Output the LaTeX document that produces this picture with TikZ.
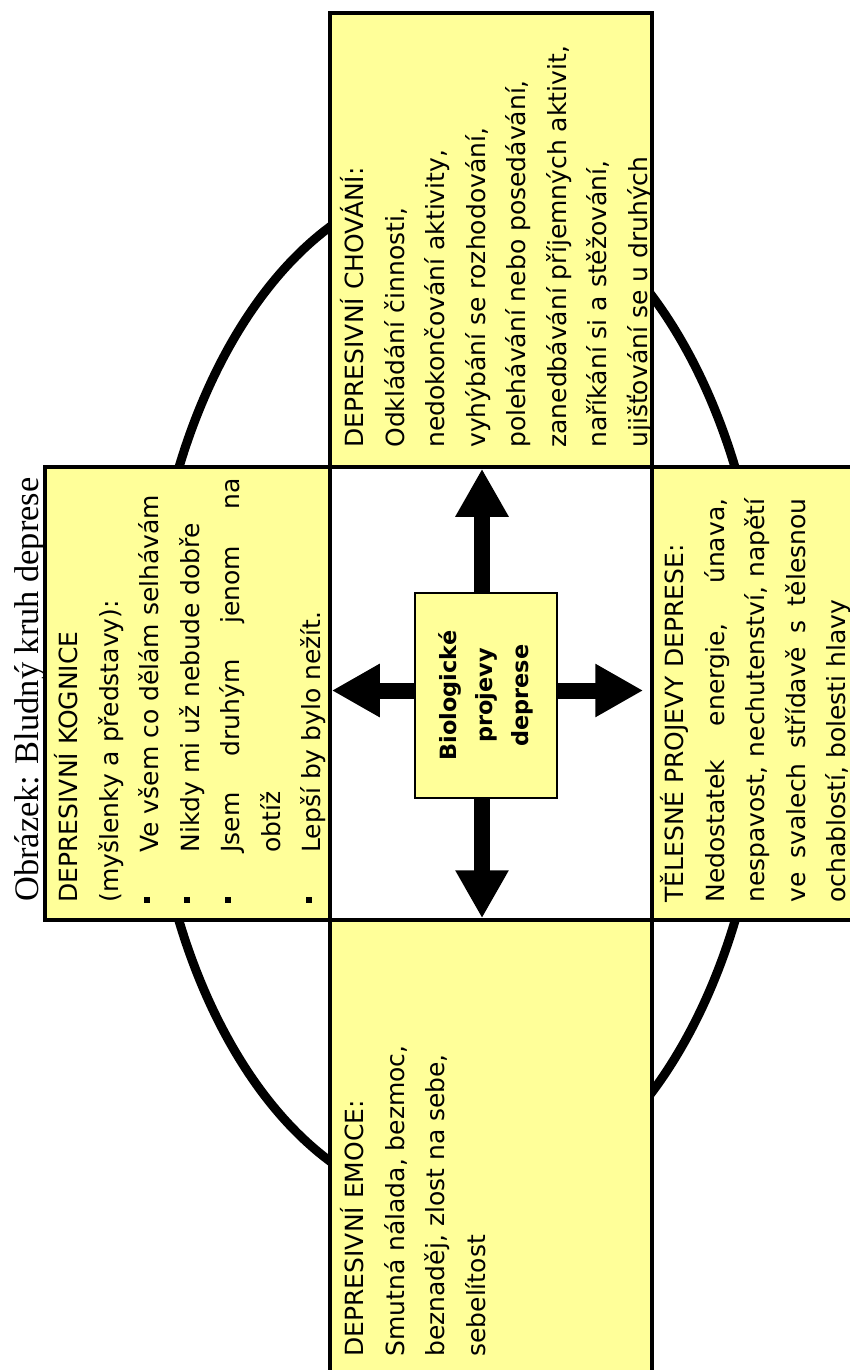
\documentclass[tikz,border=0pt]{standalone}
\usepackage{fontspec}
\setmainfont{Liberation Serif}
\newfontfamily\comic{DejaVu Sans}
\usetikzlibrary{arrows.meta}
\definecolor{jaune}{RGB}{255,255,153}
\setlength{\parindent}{0pt}

\begin{document}
\begin{tikzpicture}[x=0.5pt,y=-0.5pt]
		% Styles
		\tikzstyle{case}=[draw,fill=jaune,line width=1.75pt,inner sep=0pt]
		\tikzstyle{texte}=[rotate=90,anchor=north west,inner sep=0pt,font=\comic\fontsize{12.5}{20.25}\selectfont]
		\tikzstyle{titre}=[rotate=90,anchor=base west,inner sep=0pt,font=\fontsize{17.2}{20}\selectfont]
		\tikzstyle{bio}=[draw,fill=jaune,line width=0.75pt,rotate=90,align=center,minimum width=102.5pt,minimum height=71pt,font=\comic\bfseries\fontsize{11.2}{18}\selectfont]
		\tikzstyle{fleche}=[-{Triangle[width=25pt,length=24pt]},line width=8pt]
		\tikzstyle{cercle}=[line width=4.5pt]
		% Puce carree
		\def\puce{\par\hangindent=25pt\hangafter=1\makebox[25pt][l]{\raisebox{4.5pt}{\rule{3pt}{3pt}}}}
		% Grille (en pixels)
		\def\ColA{45}
		\def\ColB{330}
		\def\ColC{652}
		\def\ColD{870}
		\def\LigA{13}
		\def\LigB{467}
		\def\LigC{920}
		\def\LigD{1385}
		
		\useasboundingbox (0,0) rectangle (850,1370);
		\clip (0,0) rectangle (850,1370);
		
		% Ellipse
		\coordinate (centre) at (457,694);
		\draw[cercle] (centre) ellipse [x radius=155pt,y radius=256pt];
		
		% Cases
		\node[case,minimum width={(\ColC-\ColB)*0.5pt},minimum height={(\LigB-\LigA)*0.5pt}] (chov) at ({(\ColB+\ColC)/2},{(\LigA+\LigB)/2}) {};
		\node[case,minimum width={(\ColB-\ColA)*0.5pt},minimum height={(\LigC-\LigB)*0.5pt}] (kogn) at ({(\ColA+\ColB)/2},{(\LigB+\LigC)/2}) {};
		\node[case,minimum width={(\ColD-\ColC)*0.5pt},minimum height={(\LigC-\LigB)*0.5pt}] (tel) at ({(\ColC+\ColD)/2},{(\LigB+\LigC)/2}) {};
		\node[case,minimum width={(\ColC-\ColB)*0.5pt},minimum height={(\LigD-\LigC)*0.5pt}] (emoc) at ({(\ColB+\ColC)/2},{(\LigC+\LigD)/2}) {};
		
		% Textes
		\node[titre] (titre) at (39,902) {Obrázek: Bludný kruh deprese};
		\node[texte,align=left] (tchov) at (340,448) {DEPRESIVNÍ CHOVÁNÍ:\\Odkládání činnosti,\\nedokončování aktivity,\\vyhýbání se rozhodování,\\polehávání nebo posedávání,\\zanedbávání příjemných aktivit,\\naříkání si a stěžování,\\ujišťování se u druhých};
		\node[texte,text width=212pt,align=justify] (tkogn) at (54,903) {DEPRESIVNÍ KOGNICE\par (myšlenky a představy):
			\puce Ve všem co dělám selhávám
			\puce Nikdy mi už nebude dobře
			\puce Jsem druhým jenom na\linebreak obtíž
			\puce Lepší by bylo nežít.};
		\node[texte,text width=202pt,align=justify] (ttel) at (660,903) {TĚLESNÉ PROJEVY DEPRESE:\par Nedostatek energie, únava,\linebreak nespavost, nechutenství, napětí\linebreak ve svalech střídavě s tělesnou\linebreak ochablostí, bolesti hlavy};
		\node[texte,align=left] (temoc) at (340,1357) {DEPRESIVNÍ EMOCE:\\Smutná nálada, bezmoc,\\beznaděj, zlost na sebe,\\sebelítost};
		
		% Biologie au centre
		\node[bio] (bio) at (486,695.5) {Biologické\\projevy\\deprese};
		
		% Fleches
		\draw[fleche] ([xshift=-2pt]bio.east) -- ([xshift=-2pt]bio.east |- chov.south);
		\draw[fleche] ([xshift=-2pt]bio.west) -- ([xshift=-2pt]bio.west |- emoc.north);
		\draw[fleche] ([yshift=2.5pt]bio.north) -- ([yshift=2.5pt]bio.north -| kogn.east);
		\draw[fleche,shorten >=3.5pt] ([yshift=2.5pt]bio.south) -- ([yshift=2.5pt]bio.south -| tel.west);
		
	\end{tikzpicture}
\end{document}
